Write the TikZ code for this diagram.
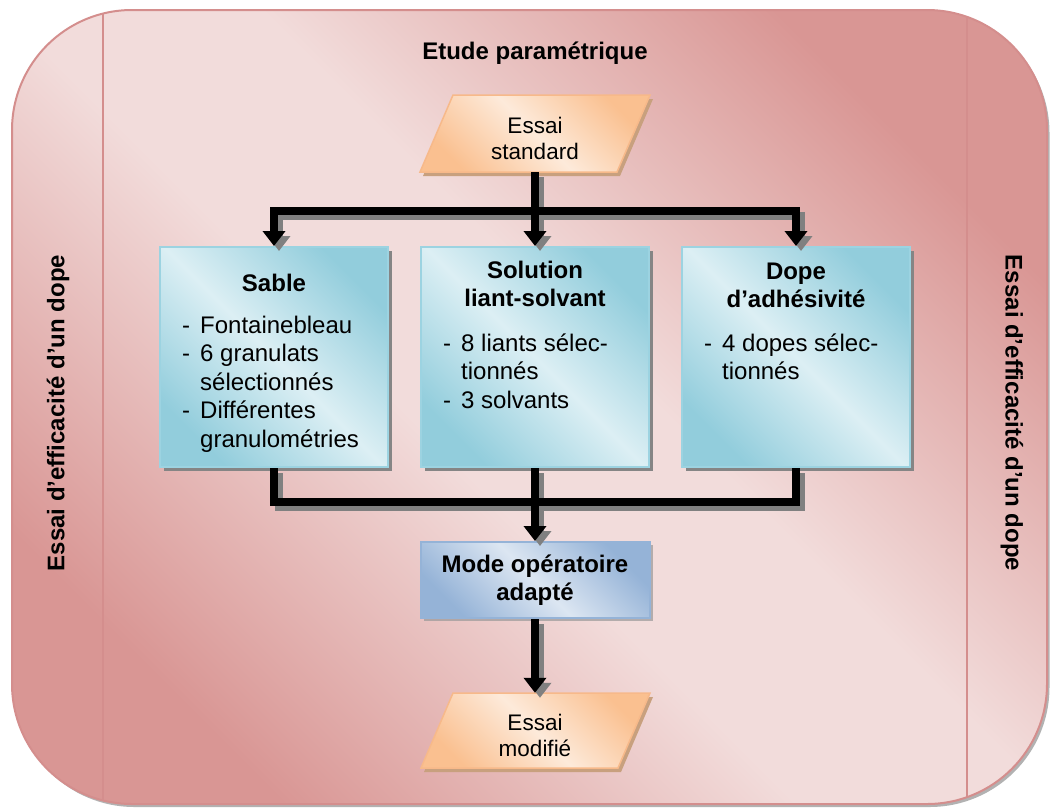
\documentclass[tikz,border=0pt]{standalone}
\usepackage{fontspec}
\setmainfont{Liberation Sans}
\usetikzlibrary{arrows.meta,shadows}

\definecolor{frameLight}{HTML}{F2DCDB}
\definecolor{frameDark}{HTML}{D99694}
\definecolor{frameLine}{HTML}{D48E8D}
\definecolor{boxLight}{HTML}{DCEFF4}
\definecolor{boxDark}{HTML}{92CDDC}
\definecolor{boxLine}{HTML}{9CD3E1}
\definecolor{modeLight}{HTML}{DCE6F2}
\definecolor{modeDark}{HTML}{95B3D7}
\definecolor{modeLine}{HTML}{95B3D7}
\definecolor{ioLight}{HTML}{FDEADA}
\definecolor{ioDark}{HTML}{FAC090}
\definecolor{ioLine}{HTML}{F7B98A}
\definecolor{ioShadow}{HTML}{C8A07E}
\definecolor{linkShadow}{HTML}{808080}

% background fade: dark towards two opposite corners, light band across the middle
\pgfdeclareverticalshading{framefade}{100bp}{color(0bp)=(frameDark); color(25bp)=(frameDark);
  color(45bp)=(frameLight); color(55bp)=(frameLight); color(75bp)=(frameDark); color(100bp)=(frameDark)}

% list bullets inside the three parameter boxes
\newcommand\bulletdash{\makebox[18pt][l]{-}}
\newcommand\bulletgap{\hspace*{18pt}}

% all connectors, drawn once as shadow and once in black
\newcommand\flowlinks{%
  \draw[link] (std) -- (sol);
  \draw[link] (split) -| (sable.north);
  \draw[link] (split) -| (dope.north);
  \draw[bar] (sable.south) |- (merge);
  \draw[bar] (dope.south) |- (merge);
  \draw[link] (sol) -- (mode);
  \draw[link] (mode) -- (mod);
}

\begin{document}
\begin{tikzpicture}[x=1pt,y=-1pt,
  base/.style={font=\fontsize{24}{28.5}\selectfont, inner sep=0pt},
  heading/.style={base, font=\bfseries\fontsize{24}{28.5}\selectfont, align=center},
  listtxt/.style={base, align=left},
  frame/.style={rectangle, rounded corners=120pt, minimum width=1035pt, minimum height=794pt,
    draw=frameLine, line width=2pt, shading=framefade, shading angle=-45,
    drop shadow={shadow xshift=2.5pt, shadow yshift=-3pt, fill=black!60, opacity=0.5}},
  divider/.style={draw=frameLine, line width=1.5pt},
  parbox/.style={rectangle, minimum width=228pt, minimum height=220pt,
    draw=boxLine, line width=2pt,
    top color=boxDark, bottom color=boxDark, middle color=boxLight, shading angle=-45,
    drop shadow={shadow xshift=4pt, shadow yshift=-4pt, fill=black!48, opacity=1}},
  modebox/.style={rectangle, minimum width=229pt, minimum height=76pt,
    draw=modeLine, line width=2pt,
    top color=modeDark, bottom color=modeDark, middle color=modeLight, shading angle=-45,
    drop shadow={shadow xshift=3pt, shadow yshift=-3pt, fill=black!40, opacity=0.7},
    font=\bfseries\fontsize{24}{28.5}\selectfont, align=center, inner sep=0pt},
  ioslot/.style={rectangle, minimum width=197pt, minimum height=77pt, inner sep=0pt},
  io/.style={draw=ioLine, line width=1.5pt, line join=miter,
    top color=ioDark, bottom color=ioDark, middle color=ioLight, shading angle=-45,
    drop shadow={shadow xshift=3pt, shadow yshift=-4pt, fill=ioShadow, opacity=1}},
  iotxt/.style={font=\fontsize{22.5}{26}\selectfont, align=center, inner sep=0pt},
  link/.style={line width=8pt, line join=miter, -{Triangle[width=22pt,length=15pt]}},
  bar/.style={line width=8pt, line join=miter},
]
\useasboundingbox (0,0) rectangle (1050,807);

% outer frame with its two side columns
\node[frame] (frame) at (529.5,407) {};
\begin{scope}
  \clip[rounded corners=120pt] (12,10) rectangle (1047,804);
  \draw[divider] (103,0) -- (103,807);
  \draw[divider] (967,0) -- (967,807);
\end{scope}

\node[heading] (title) at (535,53) {Etude paramétrique};
\node[heading, rotate=90] (leftlbl) at (58,413) {Essai d’efficacité d’un dope};
\node[heading, rotate=-90] (rightlbl) at (1012,413) {Essai d’efficacité d’un dope};

% input and output of the study (parallelograms)
\node[ioslot] (std) at (535,133.5) {};
\path[io] (420,172) -- (617,172) -- (650,95) -- (453,95) -- cycle;
\node[iotxt] (stdtxt) at (535,138.5) {Essai\\standard};
\node[ioslot, minimum height=75pt] (mod) at (535,730.5) {};
\path[io] (421,768) -- (618,768) -- (650,693) -- (453,693) -- cycle;
\node[iotxt] (modtxt) at (535,735.5) {Essai\\modifié};

% the three parameters
\node[parbox] (sable) at (274,357) {};
\node[heading, anchor=north] (sablet) at (274,271) {\strut Sable};
\node[listtxt, anchor=north west] (sablel) at (182,313)
  {\strut\bulletdash Fontainebleau\\\bulletdash 6 granulats\\\bulletgap sélectionnés\\\bulletdash Différentes\\\bulletgap granulométries};

\node[parbox] (sol) at (535,357) {};
\node[heading, anchor=north] (solt) at (535,258) {\strut Solution\\liant-solvant};
\node[listtxt, anchor=north west] (soll) at (443,331)
  {\strut\bulletdash 8 liants sélec-\\\bulletgap tionnés\\\bulletdash 3 solvants};

\node[parbox] (dope) at (796,357) {};
\node[heading, anchor=north] (dopet) at (796,259) {\strut Dope\\d’adhésivité};
\node[listtxt, anchor=north west] (dopel) at (704,331)
  {\strut\bulletdash 4 dopes sélec-\\\bulletgap tionnés};

\node[modebox] (mode) at (535,580) {Mode opératoire\\adapté};

\coordinate (split) at (535,211);
\coordinate (merge) at (535,501.5);

\begin{scope}[transform canvas={xshift=5pt,yshift=-5pt}, draw=linkShadow, color=linkShadow]
  \flowlinks
\end{scope}
\begin{scope}[draw=black]
  \flowlinks
\end{scope}
\end{tikzpicture}
\end{document}
